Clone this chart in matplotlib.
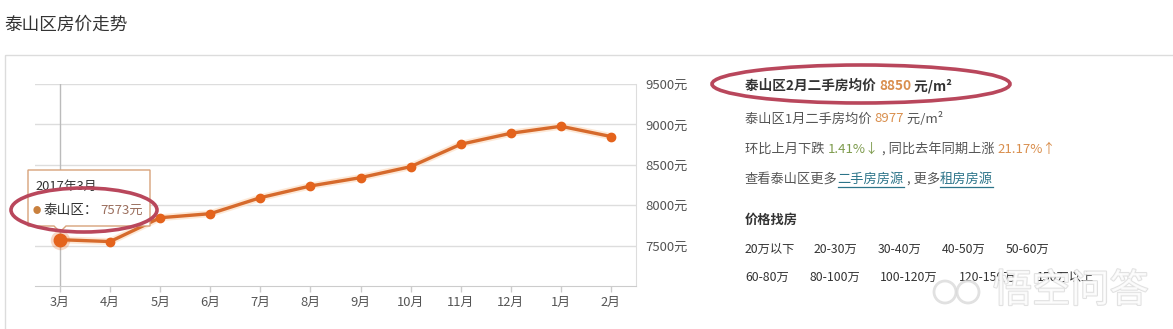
import matplotlib
matplotlib.use("Agg")
import matplotlib.pyplot as plt
import matplotlib.patches as mpatches
import matplotlib.transforms as mtransforms
import matplotlib.patheffects as pe
from matplotlib.lines import Line2D

plt.rcParams['font.family'] = ['Noto Sans CJK SC', 'DejaVu Sans']

# ---------------- data ----------------
months = ['3月', '4月', '5月', '6月', '7月', '8月', '9月', '10月', '11月', '12月', '1月', '2月']
prices = [7573, 7550, 7845, 7895, 8093, 8238, 8341, 8477, 8754, 8890, 8977, 8850]
yticks = [7500, 8000, 8500, 9000, 9500]
ytick_labels = ['7500元', '8000元', '8500元', '9000元', '9500元']
title = '泰山区房价走势'
tooltip_title = '2017年3月'
tooltip_name = '泰山区：'
tooltip_value = '7573元'
price_ranges_row1 = ['20万以下', '20-30万', '30-40万', '40-50万', '50-60万']
price_ranges_row2 = ['60-80万', '80-100万', '100-120万', '120-150万', '150万以上']

W, H = 1173, 329
fig = plt.figure(figsize=(W / 100, H / 100), dpi=100)
fig.patch.set_facecolor('white')
PX = mtransforms.Affine2D().scale(1 / W, -1 / H).translate(0, 1) + fig.transFigure

# outer panel border
fig.patches.append(mpatches.Rectangle((4.5, 54.5), 1200, 400, transform=PX,
                                      fill=False, edgecolor='#dcdcdc', lw=1))
fig.text(4, 25, title, transform=PX, fontsize=12.7, color='#333333', va='center', ha='left')

# ---------------- chart ----------------
ax_l, ax_r, ax_t, ax_b = 35, 636, 84, 286
ax = fig.add_axes([ax_l / W, (H - ax_b) / H, (ax_r - ax_l) / W, (ax_b - ax_t) / H])
ax.set_facecolor('none')
x = list(range(len(months)))
ax.set_xlim(-0.5, len(months) - 0.5)
ax.set_ylim(7000, 9500)
for v in yticks:
    ax.axhline(v, color='#dddddd', lw=1, zorder=1)
ax.axvline(0, color='#bbbbbb', lw=1, zorder=1)
for s in ['left', 'top']:
    ax.spines[s].set_visible(False)
ax.spines['right'].set_color('#dddddd')
ax.spines['bottom'].set_color('#cccccc')
ax.yaxis.tick_right()
ax.set_yticks(yticks)
ax.set_yticklabels(ytick_labels)
ax.tick_params(axis='y', length=0, pad=7, labelsize=9.5, labelcolor='#555555')
ax.set_xticks(x)
ax.set_xticklabels(months)
ax.tick_params(axis='x', length=4, width=1, color='#cccccc', pad=3, labelsize=9.3, labelcolor='#555555')

ax.plot(x, prices, color='#d66a2c', lw=2.4, zorder=3,
        path_effects=[pe.Stroke(linewidth=5, foreground='#fde3cc', alpha=0.8), pe.Normal()])
ax.plot(x[1:], prices[1:], 'o', color='#e4631c', ms=6, zorder=4, mec='#e4631c')
ax.plot([x[0]], [prices[0]], 'o', color='#e4631c', ms=14, alpha=0.25, zorder=4, mec='none')
ax.plot([x[0]], [prices[0]], 'o', color='#e4631c', ms=9, zorder=5, mec='#e4631c')

# ---------------- tooltip ----------------
tip = mpatches.Polygon([(28, 170), (150, 170), (150, 226), (66, 226), (60, 232), (54, 226), (28, 226)],
                       closed=True, transform=PX, facecolor='white', edgecolor='#d8a27a', lw=1, zorder=10)
fig.patches.append(tip)
fig.text(35, 186, tooltip_title, transform=PX, fontsize=9.3, color='#333333', va='center', zorder=11)
fig.text(33, 210, '●', transform=PX, fontsize=6, color='#c9803e', va='center', zorder=11)
fig.text(44, 210, tooltip_name, transform=PX, fontsize=9.8, color='#333333', va='center', zorder=11)
fig.text(100, 210, tooltip_value, transform=PX, fontsize=9.5, color='#9b6f5e', va='center', zorder=11)

# ---------------- right panel ----------------
renderer = fig.canvas.get_renderer()


def seq(x0, y, pieces, size=9.5, weight='normal'):
    xc = x0
    for txt, color, underline in pieces:
        t = fig.text(xc, y, txt, transform=PX, fontsize=size, color=color, va='center',
                     ha='left', fontweight=weight)
        bb = t.get_window_extent(renderer)
        if underline:
            fig.lines.append(Line2D([xc, xc + bb.width], [y + 8, y + 8], transform=PX,
                                    color=color, lw=0.9))
        xc += bb.width


seq(745, 86, [('泰山区2月二手房均价 ', '#333333', False), ('8850', '#d98f4e', False),
              (' 元/m²', '#333333', False)], size=9.8, weight='bold')
seq(745, 119, [('泰山区1月二手房均价 ', '#555555', False), ('8977', '#d98f4e', False),
               (' 元/m²', '#555555', False)])
seq(745, 149, [('环比上月下跌 ', '#555555', False), ('1.41%↓', '#7e9c4e', False),
               (' , 同比去年同期上涨 ', '#555555', False), ('21.17%↑', '#d98f4e', False)])
seq(745, 179, [('查看泰山区更多', '#555555', False), ('二手房房源', '#2c7489', True),
               (' , 更多', '#555555', False), ('租房房源', '#2c7489', True)])
seq(745, 220, [('价格找房', '#333333', False)], size=9.5, weight='bold')

row1_x = [745, 814, 878, 942, 1006]
row2_x = [745, 809, 880, 959, 1037]
for xx, lab in zip(row1_x, price_ranges_row1):
    fig.text(xx, 249, lab, transform=PX, fontsize=8.8, color='#333333', va='center')
for xx, lab in zip(row2_x, price_ranges_row2):
    fig.text(xx, 277, lab, transform=PX, fontsize=8.8, color='#333333', va='center')

# watermark (semi-transparent, as in the reference it lies over the last price ranges)
wm = fig.text(993, 291, '悟空问答', transform=PX, fontsize=28, color='white', va='center',
              alpha=0.8, zorder=20)
wm.set_path_effects([pe.Stroke(linewidth=1.5, foreground='#dadada'), pe.Normal()])
for cx in (945, 968):
    fig.patches.append(mpatches.Circle((cx, 292), 11, transform=PX, facecolor='white',
                                       edgecolor='#dadada', lw=2, alpha=0.8, zorder=20))

# ---------------- red ellipses ----------------
fig.patches.append(mpatches.Ellipse((84, 210), 146, 44, transform=PX, fill=False,
                                    edgecolor='#b9475c', lw=2.6, zorder=15))
fig.patches.append(mpatches.Ellipse((861, 84), 298, 38, transform=PX, fill=False,
                                    edgecolor='#b9475c', lw=2.6, zorder=15))

fig.savefig('out.png', dpi=100, facecolor='white')
